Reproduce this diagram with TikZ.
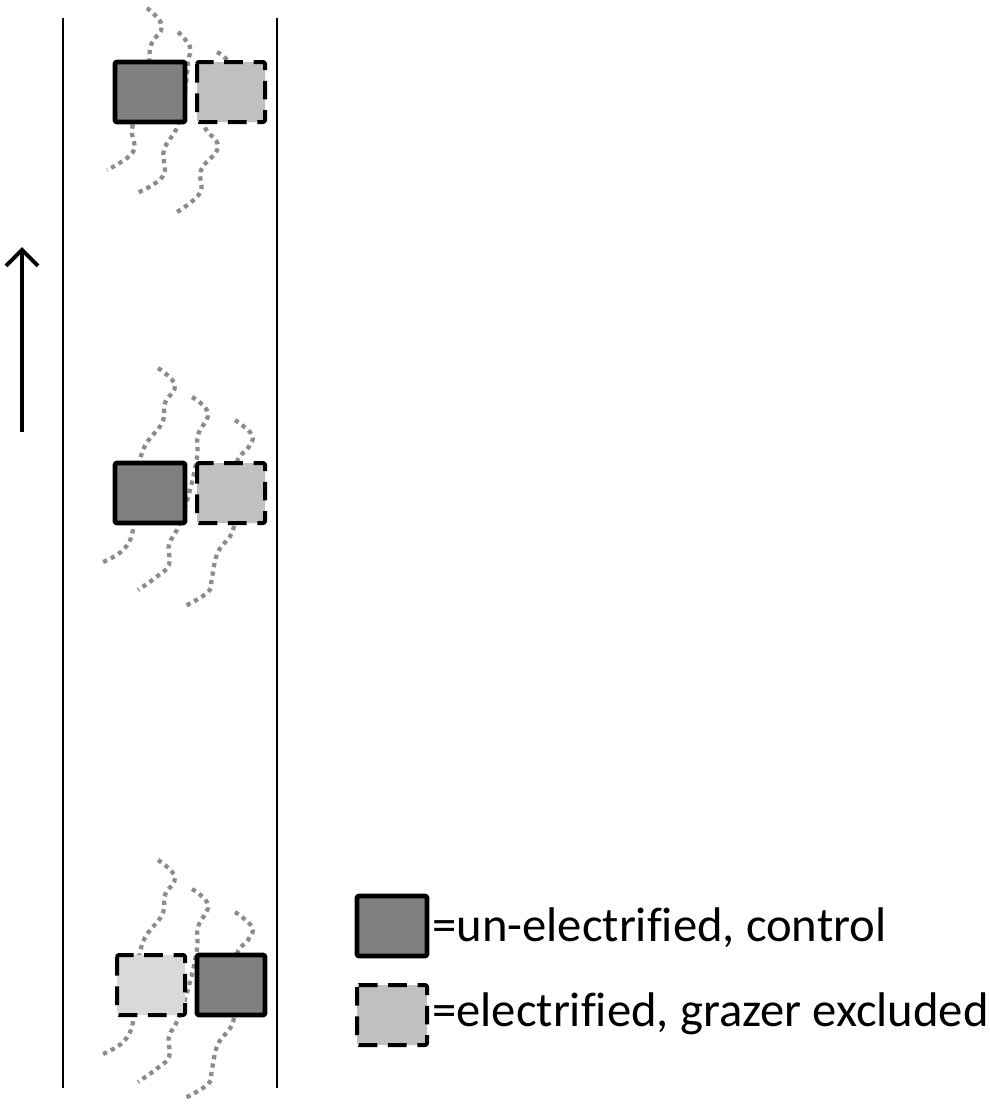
\documentclass[tikz,border=0pt]{standalone}
\usepackage{fontspec}
\setmainfont{Carlito}[Ligatures=NoCommon]
\usetikzlibrary{arrows.meta}
\definecolor{ctrlgray}{RGB}{128,128,128}
\definecolor{exclgray}{RGB}{192,192,192}
\definecolor{excllight}{RGB}{217,217,217}
\definecolor{stemgray}{RGB}{140,140,140}
\begin{document}
\begin{tikzpicture}
% plot layout in pixel units, y pointing down
\def\pxsz{0.75pt}
\providecommand{\stemLineWidth}{3.2pt}
\providecommand{\ctrlLineWidth}{3.6pt}
\providecommand{\exclLineWidth}{3pt}
\providecommand{\edgeLineWidth}{1.7pt}
\providecommand{\boxRadius}{1.5pt}
\begin{scope}[x=\pxsz, y=-\pxsz, line join=round]
  \useasboundingbox (0,0) rectangle (989,1110);
  % Stream edges
  \begin{scope}[draw=black, line width=\edgeLineWidth]
    \draw (63,18) -- (63,1088);
    \draw (277,18) -- (277,1088);
  \end{scope}
  % Flow direction
  \draw[line width=3pt, -{Straight Barb[length=12pt, width=24pt]}] (22,432) -- (22,247);
  % Wavy stems behind the plots
  \begin{scope}[draw=stemgray, line width=\stemLineWidth, dash pattern=on 3.2pt off 3.2pt]
    % top group
    \draw plot[smooth, tension=0.7] coordinates {(147,8) (162,26) (151,45) (148,70) (138,105) (132,130) (133,152) (107,170)};
    \draw plot[smooth, tension=0.7] coordinates {(178,32) (190,47) (188,62) (185,90) (178,125) (164,150) (163,176) (137,193)};
    \draw plot[smooth, tension=0.7] coordinates {(217,52) (228,63) (222,85) (210,110) (205,127) (218,147) (201,170) (200,193) (177,212)};
    % middle and bottom groups
    \foreach \dy in {0,492} {
      \begin{scope}[yshift=-\dy*\pxsz]
        \draw plot[smooth, tension=0.7] coordinates {(158,368) (175,385) (165,403) (162,423) (143,450) (136,490) (133,530) (123,550) (103,562)};
        \draw plot[smooth, tension=0.7] coordinates {(192,397) (208,413) (198,435) (197,457) (190,490) (179,525) (169,545) (169,565) (155,578) (138,590)};
        \draw plot[smooth, tension=0.7] coordinates {(235,420) (252,435) (248,448) (237,462) (236,495) (233,530) (218,552) (212,577) (208,592) (183,607)};
      \end{scope}
    }
  \end{scope}
  % Control plots (un-electrified)
  \begin{scope}[fill=ctrlgray, draw=black, line width=\ctrlLineWidth, rounded corners=\boxRadius]
    \filldraw (115,62) rectangle (185,122);
    \filldraw (115,463) rectangle (185,523);
    \filldraw (197,955) rectangle (265,1015);
    \filldraw (357,896) rectangle (427,956);
  \end{scope}
  % Exclosure plots (electrified)
  \begin{scope}[draw=black, line width=\exclLineWidth, dash pattern=on 14pt off 8pt, rounded corners=\boxRadius]
    \filldraw[fill=exclgray] (197,62) rectangle (265,122);
    \filldraw[fill=exclgray] (197,463) rectangle (265,523);
    \filldraw[fill=excllight] (117,955) rectangle (185,1015);
    \filldraw[fill=exclgray] (357,985) rectangle (427,1045);
  \end{scope}
  % Legend
  \node[anchor=west, inner sep=0pt, font=\fontsize{36.5}{42}\selectfont] (ctrltext) at (432,928) {=un-electrified, control};
  \node[anchor=west, inner sep=0pt, font=\fontsize{36.5}{42}\selectfont] (excltext) at (432,1014) {=electrified, grazer excluded};
\end{scope}
\end{tikzpicture}
\end{document}
